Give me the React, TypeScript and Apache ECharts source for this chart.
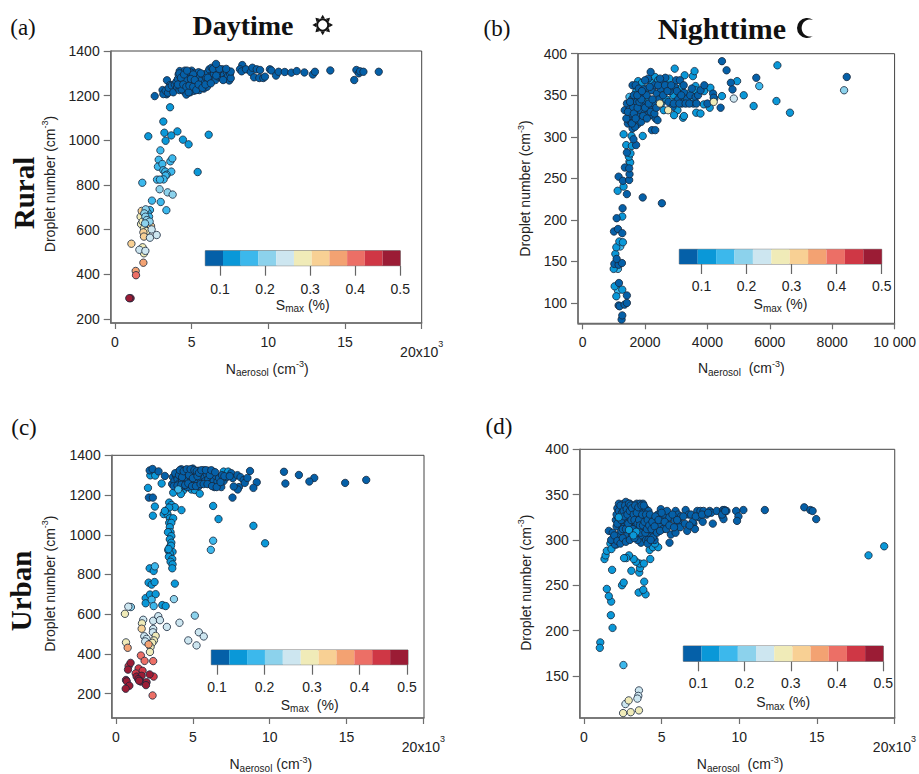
import React, { useEffect, useRef } from "react";
import * as echarts from "echarts";

type P = [number, number];

const smaxLevels = [0.08, 0.12, 0.16, 0.2, 0.24, 0.28, 0.32, 0.36, 0.4, 0.44, 0.48];
const levelColors = ["#0560A8", "#0A98D8", "#3CB8EC", "#8CD2EC", "#CDE6F0", "#F0EBB8", "#F8D094", "#F3A272", "#EC6F66", "#CF3745", "#9B1C35"];
const smaxTicks = [0.1, 0.2, 0.3, 0.4, 0.5];

const ruralXTicks = [0, 5, 10, 15, 20];
const ruralYTicks = [200, 400, 600, 800, 1000, 1200, 1400];
const nightXTicks = [0, 2000, 4000, 6000, 8000, 10000];
const nightYTicks = [100, 150, 200, 250, 300, 350, 400];
const urbanXTicks = [0, 5, 10, 15, 20];
const urbanYTicks = [200, 400, 600, 800, 1000, 1200, 1400];
const urbanNightXTicks = [0, 5, 10, 15, 20];
const urbanNightYTicks = [150, 200, 250, 300, 350, 400];

// (a) Rural daytime
const aL0: P[] = [[2.59,1198],[3.1,1225],[3.37,1206],[3.15,1207],[3.39,1269],[3.6,1248],[3.76,1228],[3.63,1225],[3.3,1222],[3.45,1213],[3.5,1235],[3.7,1245],[3.8,1215],[3.9,1250],
[4.0,1262],[4.05,1238],[4.1,1275],[4.15,1295],[4.2,1225],[4.22,1310],[4.3,1258],[4.35,1285],[4.4,1240],[4.45,1302],[4.5,1220],[4.5,1270],[4.55,1312],[4.6,1248],[4.6,1290],[4.65,1205],[4.7,1262],[4.75,1232],[4.8,1300],[4.85,1278],[4.9,1215],[4.95,1252],[5.0,1312],[5.0,1290],[5.05,1235],[5.1,1268],[5.15,1222],[5.2,1300],[5.25,1250],[5.3,1282],[5.35,1238],[5.4,1265],[5.45,1305],[5.5,1225],[5.55,1285],[5.6,1248],[5.65,1270],[5.75,1295],[5.8,1232],[5.85,1258],[5.95,1280],[6.0,1240],[6.05,1305],[6.1,1265],[6.15,1318],[6.2,1285],[6.3,1325],[6.35,1272],[6.45,1298],[6.55,1270],[6.65,1310],[6.75,1285],[6.85,1300],[6.95,1282],[7.0,1318],[7.1,1292],[7.2,1275],[7.3,1305],[7.35,1285],[7.45,1268],[7.5,1298],[7.55,1278],[7.55,1308],
[4.25,1245],[4.7,1290],[4.9,1305],[5.1,1295],[5.4,1235],[4.35,1228],[4.6,1270],[5.0,1262],
[4.1,1250],[4.2,1300],[4.3,1280],[4.45,1250],[4.5,1295],[4.65,1240],[4.7,1312],[4.8,1215],[4.85,1245],[4.95,1275],[5.1,1240],[5.2,1270],[5.3,1225],[5.45,1250],[5.6,1300],[5.7,1235],[5.9,1250],[6.05,1280],[6.25,1255],[6.4,1320],[6.6,1290],[6.8,1320],[7.05,1270],[7.25,1320],
[6.59,1342],[8.3,1337],[8.15,1318],[8.26,1309],[8.54,1318],[8.85,1306],[8.96,1325],[9.24,1318],[9.46,1315],[9.07,1282],[9.41,1279],[9.67,1279],[9.78,1285],[10.1,1318],[10.2,1313],[10.5,1290],[10.67,1307],[11.07,1306],[11.5,1303],[11.85,1310],[12.35,1304],[12.9,1295],[13.04,1307],[14.04,1313],[15.6,1270],[15.74,1315],[15.9,1300],[15.98,1309],[16.2,1307],[17.2,1307]];
const aL1: P[] = [[3.59,1148],[2.17,1018],[3.15,1084],[3.22,1034],[3.3,998],[3.67,1022],[4.07,1040],[4.43,1003],[4.8,982],[6.11,1025],[5.39,858]];
const aL2: P[] = [[2.96,955],[2.85,913],[2.8,882],[3.09,894],[3.61,906],[3.74,919],[3.15,866],[3.28,860],[3.67,860],[3.37,846],[3.3,842],[3.17,825],[2.74,824],[2.93,824],[1.78,810],[2.41,730],[2.98,724],[3.35,687],[2.28,688],[2.13,676],[2.22,658]];
const aL3: P[] = [[2.91,781],[3.43,767],[3.76,757],[2.0,691],[1.91,673],[1.98,658],[2.07,643],[2.26,636],[1.96,628]];
const aL4: P[] = [[2.39,601],[2.28,564],[2.72,576],[1.59,510],[1.98,505]];
const aL5: P[] = [[1.67,658],[1.7,625],[1.89,606],[2.07,594],[1.8,636],[1.8,521],[1.89,494]];
const aL6: P[] = [[1.74,684],[1.85,588],[1.89,569],[2.35,616],[1.07,537]];
const aL7: P[] = [[1.85,452],[1.35,415]];
const aL8: P[] = [[1.37,396]];
const aL10: P[] = [[1.02,293],[0.93,293]];

// (b) Rural nighttime
const bL0: P[] = [[1249,80],[1270,85],[1153,97],[1185,96],[1344,98],[1418,100],[1418,109],[1164,124],[1016,147],[1153,146],[1259,148],[1090,153],[1005,186],[1132,189],[1270,184],[1090,202],[1280,214],[1926,227],[2540,220],[1153,252],[1291,247],[1418,231],[1354,263],[1492,248],[1503,255],[1492,262],[1418,281],[1714,290],[1630,297],[2222,308],[2328,308],
[1350,332],[1420,340],[1500,333],[1450,316],[1540,318],[1600,310],[1660,322],[1720,330],[1580,345],[1640,350],[1700,338],[1760,315],[1820,325],[1880,318],[1500,325],[1560,328],[1620,335],[1680,312],[1740,342],[1800,350],[1860,332],[1920,340],[1980,328],[2040,336],[2100,327],[2160,333],[2220,326],[2280,340],[2340,322],[2400,320],[1600,362],[1700,362],[1800,358],[1860,352],[1950,357],[2050,350],[2100,370],[2180,378],[2220,356],[2300,362],[2380,352],[2450,345],[2500,358],[2560,366],[2650,371],[2750,342],[2800,355],[2880,336],[2950,360],[3000,368],[3060,345],[3120,368],[3180,340],[3250,353],[3350,346],[3450,350],[3550,340],[3620,348],[3700,350],[3780,356],[3900,362],[4000,340],[4180,352],[4200,347],
[1400,322],[1450,330],[1520,342],[1580,316],[1640,328],[1700,322],[1760,335],[1820,342],[1880,345],[1940,325],[2000,335],[2060,322],[2120,340],[2180,330],[2240,345],[2300,328],[2360,335],[2420,362],[2480,370],[2580,350],[2640,362],[2720,355],[2840,362],[2920,340],[3020,355],[3100,340],[3160,350],[3240,362],[3300,340],[3420,340],[3500,358],[3650,340],[1750,350],[1900,355],[2000,368],[2150,360],
[4466,391],[4614,380],[4751,365],[4804,357],[4423,335],[5566,371],[8466,372]];
const bL1: P[] = [[1079,108],[1026,120],[1270,116],[995,141],[1048,159],[1079,167],[1175,174],[1291,173],[1270,204],[1122,235],[1312,240],[1524,269],[1482,276],[1534,280],[1397,290],[1577,289],[1566,301],[1312,303],[1926,301],
[1560,340],[1650,342],[1720,355],[1780,367],[1900,365],[1980,345],[2060,358],[2140,345],[2200,365],[2320,372],[2420,368],[2520,340],[2600,332],[2680,345],[2700,365],[2780,370],[2860,358],[2920,350],[2980,342],[3040,332],[3100,352],[3180,360],[3240,345],[3270,374],[2952,382],[2930,326],[3217,323],[3249,325],[3534,373],[3587,379],[3619,361],[3619,356],[3640,329],[3778,328],[3884,339],[3894,355],[4095,359],[4074,335],[4222,346],[4466,349],[4952,367],[5164,350],[5481,337],[6212,343],[6243,386],[6646,329]];
const bL2: P[] = [[1132,115],[1132,141],[1206,168],[1500,348],[5661,361],[2620,358],[2840,345],[2350,338],[1760,325],[1500,270],[2000,350],[3400,352],[3560,345]];
const bL3: P[] = [[8381,356]];
const bL4: P[] = [[4846,346]];
const bL5: P[] = [[4201,342],[2741,332],[2476,340]];

// (c) Urban daytime
const cL0: P[] = [[2.19,1324],[2.38,1331],[2.77,1319],[3.18,1296],[2.14,1187],[2.4,1187],
[3.65,1255],[3.7,1290],[3.8,1270],[3.9,1300],[3.95,1240],[4.0,1280],[4.05,1315],[4.1,1258],[4.2,1295],[4.25,1330],[4.3,1268],[4.35,1310],[4.4,1245],[4.45,1285],[4.5,1325],[4.55,1262],[4.6,1300],[4.65,1240],[4.7,1278],[4.75,1318],[4.8,1255],[4.85,1295],[4.9,1272],[5.0,1333],[5.0,1248],[5.05,1310],[5.1,1285],[5.15,1262],[5.2,1300],[5.3,1270],[5.35,1322],[5.4,1245],[5.45,1295],[5.5,1280],[5.6,1310],[5.65,1262],[5.7,1325],[5.75,1290],[5.8,1270],[5.9,1305],[6.0,1322],[6.0,1280],[6.1,1255],[6.2,1298],[6.3,1318],[6.35,1270],[6.4,1240],[6.5,1295],[6.6,1268],[6.7,1285],[6.85,1240],[6.9,1300],[7.0,1270],[7.2,1290],[7.5,1310],[7.6,1285],[7.9,1300],[8.1,1290],[8.3,1275],
[3.75,1245],[3.85,1310],[4.0,1248],[4.1,1300],[4.15,1325],[4.25,1252],[4.3,1290],[4.4,1320],[4.5,1250],[4.6,1330],[4.7,1258],[4.75,1300],[4.85,1330],[4.95,1245],[5.0,1285],[5.1,1325],[5.2,1245],[5.25,1320],[5.3,1295],[5.4,1312],[5.5,1255],[5.55,1325],[5.7,1255],[5.85,1325],[5.95,1255],[6.1,1300],[6.2,1325],[6.25,1245],[6.45,1315],[6.55,1240],[6.8,1265],[7.05,1295],[7.4,1295],[8.0,1240],
[8.72,1321],[10.93,1317],[11.9,1301],[12.9,1286],[12.58,1268],[11.02,1258],[9.16,1264],[14.91,1261],[16.28,1276],[8.38,1261],[8.55,1286],[8.94,1236],[7.92,1228],[7.66,1243],[7.58,1187]];
const cL1: P[] = [[2.23,1299],[2.55,1298],[2.97,1258],[2.08,1236],[2.53,1142],[2.4,1096],
[3.46,1162],[3.61,1150],[3.83,1139],[4.26,1124],[3.29,1121],[3.46,1137],[3.1,1104],[3.35,1104],[3.18,1120],[3.5,1083],[3.72,1083],[3.46,1060],[3.6,1060],[3.5,1038],[3.55,1013],[3.38,1013],[3.6,993],[3.5,977],[3.6,960],[3.5,939],[3.4,922],[3.68,914],[3.5,906],[3.44,889],[3.66,878],[3.55,864],[3.68,851],[3.66,831],[3.58,945],[3.42,928],
[7.0,1318],[7.3,1318],[3.72,1212],[4.37,1223],[4.22,1205],[4.91,1228],[5.13,1225],[5.45,1207],[6.32,1145],[6.67,1079],[8.94,1045],[9.7,957],
[2.19,831],[2.45,818],[2.12,759],[2.32,749],[2.51,762],[3.83,754],[1.93,681],[2.21,699],[2.58,701],[1.93,655],[3.01,646],[3.23,641]];
const cL2: P[] = [[4.05,1228],[6.32,970],[6.17,924],[2.53,841],[2.32,673],[2.45,641]];
const cL3: P[] = [[3.77,676],[5.13,593],[0.97,636]];
const cL4: P[] = [[0.8,638],[1.77,572],[2.42,567],[2.75,590],[2.86,570],[2.42,526],[2.4,509],[3.31,536],[4.13,557],[5.39,509],[5.71,488],[4.7,468],[5.24,443],[1.84,489],[1.99,476],[1.9,463]];
const cL5: P[] = [[0.58,602],[1.69,554],[2.58,491],[2.47,468],[2.36,456],[2.25,435],[2.21,410],[0.65,458]];
const cL6: P[] = [[1.67,527]];
const cL7: P[] = [[2.12,448],[0.76,431]];
const cL8: P[] = [[1.62,392],[1.86,365],[2.42,364],[2.38,191]];
const cL9: P[] = [[0.82,339],[1.47,327],[1.73,315],[1.28,302],[2.45,286]];
const cL10: P[] = [[0.95,355],[0.78,321],[2.19,297],[1.34,286],[1.67,290],[1.45,273],[1.62,261],[0.65,269],[0.7,262],[1.99,258],[1.95,243],[0.87,240],[0.63,225],[1.5,265]];

// (d) Urban nighttime
const dL0: P[] = [[3.67,297],[5.51,297],[14.19,336],[14.58,333],[14.73,332],[14.96,323],[11.65,333],[10.27,333],[9.8,332],[9.95,326],[9.86,321],[9.18,332],[8.92,326],[8.99,323],
[1.6,310],[1.85,308],[1.9,298],[2.0,295],[2.05,322],[2.1,315],[2.15,335],[2.2,305],[2.2,325],[2.25,340],[2.3,318],[2.3,298],[2.35,330],[2.4,310],[2.45,338],[2.5,322],[2.55,340],[2.6,315],[2.6,300],[2.65,330],[2.7,342],[2.75,320],[2.8,306],[2.85,336],[2.9,325],[2.95,340],[3.0,315],[3.05,330],[3.1,305],[3.15,322],[3.2,338],[3.25,312],[3.3,328],[3.35,318],[3.4,340],[3.45,300],[3.5,325],[3.55,312],[3.6,340],[3.65,332],[3.7,318],[3.75,305],[3.8,340],[3.85,326],[3.9,312],[3.95,335],[4.0,300],[4.05,320],[4.1,310],[4.15,332],[4.2,305],[4.25,322],[4.3,316],[4.4,310],[4.5,322],[4.55,300],[4.65,318],[4.75,328],[4.85,316],[4.95,334],[5.0,322],[5.1,312],[5.15,328],[5.35,332],[5.4,318],[5.5,325],[5.6,306],[5.9,308],[5.85,322],[5.9,332],[6.1,320],[6.2,314],[6.05,328],[6.25,326],[6.55,333],[6.5,318],[6.65,310],[6.75,328],[6.9,328],[7.05,318],[7.15,312],[7.0,320],[7.3,332],[7.4,325],[7.5,332],[7.65,320],[7.7,332],[7.9,328],[8.1,332],[8.3,318],[8.2,330],[8.55,332],[8.95,333],[9.05,333],
[2.1,328],[2.15,318],[2.25,332],[2.35,338],[2.4,322],[2.45,330],[2.5,312],[2.55,332],[2.6,326],[2.65,338],[2.7,312],[2.75,334],[2.8,328],[2.85,318],[2.9,340],[2.95,332],[3.0,338],[3.05,322],[3.1,335],[3.15,312],[3.2,328],[3.25,322],[3.3,338],[3.35,308],[3.4,330],[3.45,318],[3.5,336],[3.55,322],[3.6,316],[3.65,308],[3.7,338],[3.75,328],[3.8,316],[3.85,338],[3.9,320],[3.95,308],[4.0,328],[4.05,312],[4.1,322],[4.15,300],[4.2,316],[4.25,328],[4.35,312],[4.4,320],[4.45,303],[4.55,315],[4.6,326],[4.7,308],[4.8,322],[4.9,310],[5.0,330],[5.2,320],[5.3,312],[5.5,316],[5.7,328],[5.8,314],[6.0,322],[6.4,326],[6.8,316],[7.2,326],[7.6,328],[8.0,330],[8.9,328],[9.1,332],
[1.75,300],[1.95,305],[2.15,299],[2.35,296],[2.5,302],[2.7,298],[2.95,300],[3.25,302],[4.1,296],[4.3,300]];
const dL1: P[] = [[1.05,187],[1.02,181],[1.84,203],[1.73,217],[1.75,232],[1.6,238],[1.47,246],[1.32,279],[1.39,283],[1.47,288],[1.81,267],[2.45,250],[2.56,253],[3.52,242],[3.97,240],[3.82,245],[3.88,254],[3.05,266],[3.56,264],[3.61,269],[3.59,274],[3.86,274],[3.35,276],[3.2,279],[2.9,283],[2.73,280],[2.58,280],[4.27,279],[4.23,289],[4.44,292],[4.78,292],[4.57,296],[18.33,283],[19.34,293],[1.7,296],[1.77,290],[2.09,295]];
const dL1Top: P[] = [[2.24,325],[2.9,311],[3.37,309],[3.18,305]];
const dL2: P[] = [[2.54,162]];
const dL4: P[] = [[3.54,134],[3.5,128],[3.44,125],[2.67,119]];
const dL5: P[] = [[2.88,123],[3.54,112],[3.01,110],[2.52,109]];

const SANS = "Liberation Sans";
const SERIF = "Liberation Serif";
const AXIS_GREY = "#6e6e6e";

const richStyles = {
  n: { fontFamily: SANS, fontSize: 14, color: "#222" },
  sub: { fontFamily: SANS, fontSize: 10, color: "#222", verticalAlign: "bottom" as const, lineHeight: 18 },
  sup: { fontFamily: SANS, fontSize: 9, color: "#222", verticalAlign: "top" as const, lineHeight: 18 },
  big: { fontFamily: SANS, fontSize: 14, color: "#222", padding: [10, 0, 0, 0] },
  bigSup: { fontFamily: SANS, fontSize: 9, color: "#222", padding: [0, 0, 6, 0] },
};

const moonPath = "M16 2 A10 10 0 1 0 16 18 A8.5 8.5 0 1 1 16 2 Z";
echarts.graphic.registerShape("moon", echarts.graphic.extendPath(moonPath as any, {}));

interface Panel {
  box: [number, number, number, number];
  xRange: [number, number];
  yRange: [number, number];
  xTicks: number[];
  yTicks: number[];
  xFormat: (v: number) => string;
  levels: P[][];
  levelIdx: number[];
  xName: string;
  xNameGap: number;
  xNamePad: number;
  yNameGap: number;
  yNamePad: number;
  bar: [number, number, number, number];
  barRange: [number, number];
  barName: string;
  barNameGap: number;
  barLabelMargin: number;
}

const fmt20 = (v: number) => (v === 20 ? "{big|20x10}{bigSup|3}" : String(v));
const fmt10k = (v: number) => (v === 10000 ? "10 000" : String(v));

const panels: Panel[] = [
  { box: [110.7, 51, 311, 272], xRange: [-0.28, 20], yRange: [182, 1400], xTicks: ruralXTicks, yTicks: ruralYTicks, xFormat: fmt20,
    levels: [aL0, aL1, aL2, aL5, aL6, aL3, aL4, aL7, aL8, aL10], levelIdx: [0, 1, 2, 5, 6, 3, 4, 7, 8, 10],
    xName: "{n|N}{sub|aerosol}{n| (cm}{sup|-3}{n|)}", xNameGap: 34, xNamePad: 2, yNameGap: 52, yNamePad: 6,
    bar: [205.3, 250.7, 195, 15], barRange: [0.0673, 0.5], barName: "{n|S}{sub|max}{n| (%)}", barNameGap: 30, barLabelMargin: 16 },
  { box: [578, 53.7, 319.7, 269.6], xRange: [-149, 10000], yRange: [75.5, 400], xTicks: nightXTicks, yTicks: nightYTicks, xFormat: fmt10k,
    levels: [bL2, bL1, bL0, bL3, bL4, bL5], levelIdx: [2, 1, 0, 3, 4, 5],
    xName: "{n|N}{sub|aerosol}{n|  (cm}{sup|-3}{n|)}", xNameGap: 36, xNamePad: 10, yNameGap: 44, yNamePad: 0,
    bar: [679.3, 249.3, 202.4, 14.7], barRange: [0.0508, 0.5], barName: "{n|S}{sub|max}{n| (%)}", barNameGap: 31, barLabelMargin: 15 },
  { box: [111.7, 455.3, 312.3, 266.7], xRange: [-0.28, 20.04], yRange: [77.5, 1400], xTicks: urbanXTicks, yTicks: urbanYTicks, xFormat: fmt20,
    levels: [cL1, cL0, cL2, cL3, cL4, cL5, cL6, cL7, cL8, cL9, cL10], levelIdx: [1, 0, 2, 3, 4, 5, 6, 7, 8, 9, 10],
    xName: "{n|N}{sub|aerosol}{n| (cm}{sup|-3}{n|)}", xNameGap: 37, xNamePad: 6, yNameGap: 53, yNamePad: 6,
    bar: [211.3, 650, 196.7, 14.7], barRange: [0.088, 0.502], barName: "{n|S}{sub|max}{n|  (%)}", barNameGap: 31, barLabelMargin: 15 },
  { box: [579.7, 449.3, 316.6, 272.7], xRange: [-0.276, 20.02], yRange: [103.6, 400], xTicks: urbanNightXTicks, yTicks: urbanNightYTicks, xFormat: fmt20,
    levels: [dL1, dL0, dL1Top, dL2, dL4, dL5], levelIdx: [1, 0, 1, 2, 4, 5],
    xName: "{n|N}{sub|aerosol}{n|  (cm}{sup|-3}{n|)}", xNameGap: 37, xNamePad: 6, yNameGap: 45, yNamePad: 2,
    bar: [683.3, 646, 200, 15.3], barRange: [0.0674, 0.5], barName: "{n|S}{sub|max}{n| (%)}", barNameGap: 32, barLabelMargin: 15 },
];

const yNameText = "{n|Droplet number (cm}{sup|-3}{n|)}";

function sunIcon(cx: number, cy: number) {
  const parts: any[] = [
    { type: "circle", shape: { cx, cy, r: 5.6 }, style: { fill: "#fff", stroke: "#111", lineWidth: 2 } },
  ];
  for (let k = 0; k < 8; k++) {
    const a = (k * Math.PI) / 4;
    const ca = Math.cos(a), sa = Math.sin(a);
    parts.push({
      type: "polygon",
      shape: { points: [[cx + 6.5 * ca - 2.2 * sa, cy + 6.5 * sa + 2.2 * ca], [cx + 10.3 * ca, cy + 10.3 * sa], [cx + 6.5 * ca + 2.2 * sa, cy + 6.5 * sa - 2.2 * ca]] },
      style: { fill: "#111" },
    });
  }
  return parts;
}

function buildOption() {
  const grid: any[] = [];
  const xAxis: any[] = [];
  const yAxis: any[] = [];
  const series: any[] = [];
  panels.forEach((p, i) => {
    const gi = i * 2;
    grid.push({ left: p.box[0], top: p.box[1], width: p.box[2], height: p.box[3], show: true, borderColor: "#444", borderWidth: 1, backgroundColor: "transparent", containLabel: false });
    xAxis.push({
      type: "value", gridIndex: gi, min: p.xRange[0], max: p.xRange[1], splitLine: { show: false },
      axisLine: { onZero: false, lineStyle: { color: AXIS_GREY, width: 1.5 } },
      axisTick: { customValues: p.xTicks, length: 6, lineStyle: { color: AXIS_GREY, width: 1.2 } },
      axisLabel: { customValues: p.xTicks, margin: 12, fontFamily: SANS, fontSize: 14, color: "#222", formatter: p.xFormat, rich: richStyles, hideOverlap: false },
      name: p.xName, nameLocation: "middle", nameGap: p.xNameGap, nameTextStyle: { rich: richStyles, padding: [0, 0, 0, p.xNamePad] },
    });
    yAxis.push({
      type: "value", gridIndex: gi, min: p.yRange[0], max: p.yRange[1], splitLine: { show: false },
      axisLine: { onZero: false, lineStyle: { color: AXIS_GREY, width: 1.5 } },
      axisTick: { customValues: p.yTicks, length: 7, lineStyle: { color: AXIS_GREY, width: 1.2 } },
      axisLabel: { customValues: p.yTicks, margin: 11, fontFamily: SANS, fontSize: 14, color: "#222", formatter: (v: number) => String(v) },
      name: yNameText, nameLocation: "middle", nameGap: p.yNameGap, nameRotate: 90, nameTextStyle: { rich: richStyles, padding: [0, 0, 0, p.yNamePad] },
    });
    const data: number[][] = [];
    p.levels.forEach((pts, k) => pts.forEach((q) => data.push([q[0], q[1], smaxLevels[p.levelIdx[k]]])));
    series.push({
      type: "scatter", xAxisIndex: gi, yAxisIndex: gi, data, symbol: "circle", symbolSize: 7.4, clip: false,
      itemStyle: {
        color: (a: any) => levelColors[smaxLevels.indexOf(a.value[2])],
        borderColor: "#16263a", borderWidth: 0.8, opacity: 1,
      },
    });

    // colour bar
    grid.push({ left: p.bar[0], top: p.bar[1], width: p.bar[2], height: p.bar[3], show: true, borderColor: "#777", borderWidth: 1, backgroundColor: "transparent" });
    xAxis.push({
      type: "value", gridIndex: gi + 1, min: p.barRange[0], max: p.barRange[1], splitLine: { show: false },
      axisLine: { show: false, onZero: false },
      axisTick: { customValues: smaxTicks, length: 10, lineStyle: { color: "#666", width: 1.2 } },
      axisLabel: { customValues: smaxTicks, margin: p.barLabelMargin, fontFamily: SANS, fontSize: 14, color: "#222", formatter: (v: number) => v.toFixed(1) },
      name: p.barName, nameLocation: "middle", nameGap: p.barNameGap, nameTextStyle: { rich: richStyles },
    });
    yAxis.push({ type: "value", gridIndex: gi + 1, min: 0, max: 1, show: false });
    const w = (p.barRange[1] - p.barRange[0]) / levelColors.length;
    series.push({
      type: "custom", xAxisIndex: gi + 1, yAxisIndex: gi + 1, silent: true, clip: false,
      data: levelColors.map((_, k) => [p.barRange[0] + k * w, p.barRange[0] + (k + 1) * w, k]),
      encode: { x: [0, 1] },
      renderItem: (_: any, api: any) => {
        const a = api.coord([api.value(0), 1]);
        const b = api.coord([api.value(1), 0]);
        return { type: "rect", shape: { x: a[0], y: a[1], width: b[0] - a[0], height: b[1] - a[1] }, style: { fill: levelColors[api.value(2)], stroke: null } };
      },
    });
  });

  const text = (x: number, y: number, t: string, font: string, size: number, weight: string, rotation = 0) => ({
    type: "text", x, y, rotation,
    style: { text: t, fontFamily: font, fontSize: size, fontWeight: weight, fill: "#111", align: "center", verticalAlign: "middle" },
  });

  const graphic = [
    text(23, 27, "(a)", SERIF, 23, "normal"),
    text(497, 28, "(b)", SERIF, 23, "normal"),
    text(24, 427, "(c)", SERIF, 23, "normal"),
    text(499, 426, "(d)", SERIF, 23, "normal"),
    text(243, 25, "Daytime", SERIF, 28, "bold"),
    text(722, 28, "Nighttime", SERIF, 30, "bold"),
    ...sunIcon(322.7, 25),
    { type: "moon", x: 797, y: 18, style: { fill: "#111" } },
    text(24, 193, "Rural", SERIF, 29, "bold", Math.PI / 2),
    text(21, 591, "Urban", SERIF, 29, "bold", Math.PI / 2),
  ];

  return { animation: false, backgroundColor: "#fff", grid, xAxis, yAxis, series, graphic };
}

export default function App() {
  const ref = useRef<HTMLDivElement>(null);
  useEffect(() => {
    document.body.style.margin = "0";
    const chart = echarts.init(ref.current!, undefined, { renderer: "svg" });
    chart.setOption(buildOption() as any);
    return () => chart.dispose();
  }, []);
  return <div ref={ref} style={{ width: 919, height: 774 }} />;
}
